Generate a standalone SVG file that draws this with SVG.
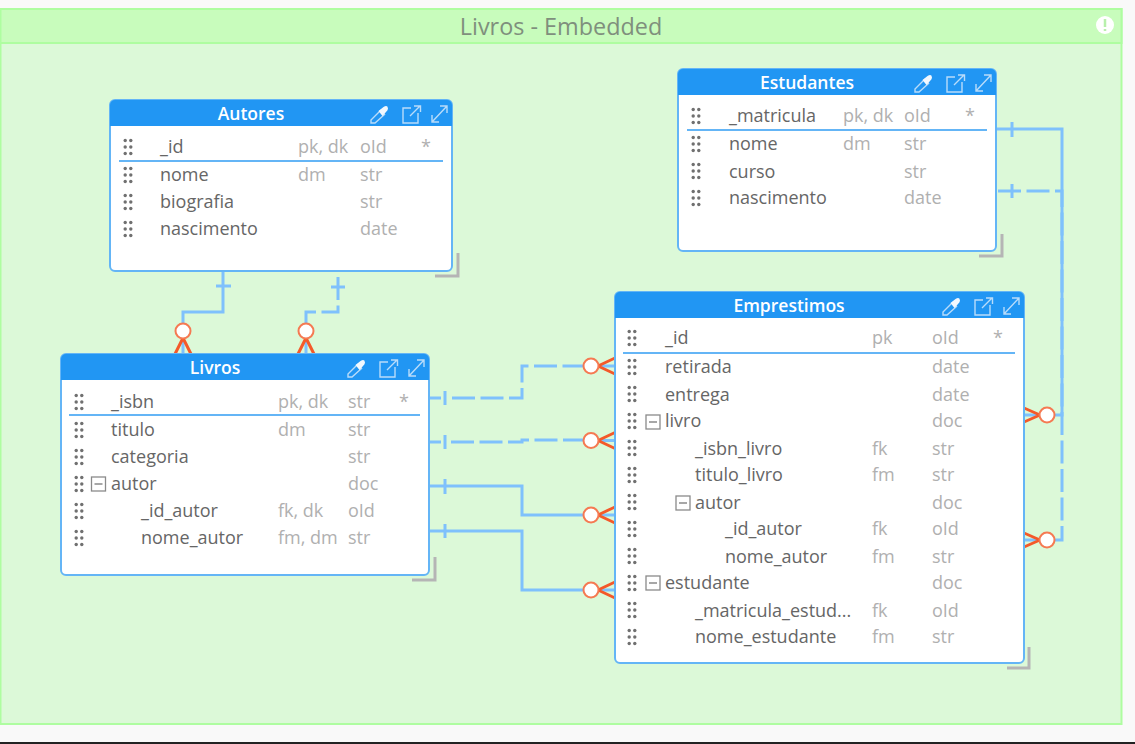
<svg xmlns="http://www.w3.org/2000/svg" width="1135" height="744" viewBox="0 0 1135 744">
<style>
text{font-family:"Open Sans","Noto Sans","Liberation Sans",sans-serif;font-size:18px}
.card{fill:#fff;stroke:#64b5f6;stroke-width:2}
.head{fill:#2196f3}
.title{fill:#fff;font-weight:600;text-anchor:middle;font-size:17.500px}
.n{fill:#666}
.m{fill:#b0b0b0}
.div{stroke:#64b5f6;stroke-width:2;fill:none}
.grab{fill:none;stroke:#b5b5b5;stroke-width:3}
.c{fill:none;stroke:#7fc1fc;stroke-width:3}
.d{stroke-dasharray:23 5.500}
.crow{fill:none;stroke:#f4592a;stroke-width:3}
.o{fill:#fff;stroke:#f57a52;stroke-width:2}
.ic{fill:none;stroke:#b9dcfa;stroke-width:1.400}
.g{fill:#707070}
.box{fill:none;stroke:#8a8a8a;stroke-width:1.300}
</style>
<defs>
<g id="grip"><circle cx="-2.800" cy="-6.500" r="1.700" class="g"/><circle cx="2.800" cy="-6.500" r="1.700" class="g"/><circle cx="-2.800" cy="0" r="1.700" class="g"/><circle cx="2.800" cy="0" r="1.700" class="g"/><circle cx="-2.800" cy="6.500" r="1.700" class="g"/><circle cx="2.800" cy="6.500" r="1.700" class="g"/></g>
<g id="icons">
<path class="ic" d="M-81 6L-71.500 -3.500L-67.500 0.500L-77 9H-81Z"/><path d="M-73.500 -3L-68.500 -7Q-64.500 -9.500 -64 -5.500Q-64 -4 -66 -2L-69.500 2Z" fill="#f2f8fe"/>
<path class="ic" d="M-41 -6H-49V9H-34V-1M-42 2L-32 -8M-38 -8H-31.500V-2"/>
<path class="ic" d="M-20 8L-5 -8M-20 1V8H-13M-12 -8H-5V-1"/>
</g>
<g id="minus"><rect x="-7" y="-7" width="14" height="14" class="box"/><path d="M-4 0H4" stroke="#777" stroke-width="1.300"/></g>
<g id="crowL"><path class="c" d="M598 0H615"/><path class="crow" d="M598 0L615 -8M598 0L615 8"/><circle cx="591" cy="0" r="7.500" class="o"/></g>
<g id="crowR"><path class="c" d="M1024 0H1040"/><path class="crow" d="M1040 0L1024 -7M1040 0L1024 7"/><circle cx="1047" cy="0" r="7.500" class="o"/></g>
<g id="crowD"><path class="c" d="M0 338V354"/><path class="crow" d="M0 338L-8 354M0 338L8 354"/><circle cx="0" cy="331" r="7.500" class="o"/></g>
</defs>
<rect width="1135" height="744" fill="#f9f9f9"/>
<rect x="0" y="742" width="1135" height="2" fill="#222"/>
<g id="container">
<rect x="0.500" y="9" width="1121" height="715" fill="#dcf9d8" stroke="#aefda0" stroke-width="2"/>
<rect x="0.500" y="9" width="1121" height="34" fill="#c8fcbc" stroke="#aefda0" stroke-width="2"/>
<text x="561" y="34.500" text-anchor="middle" fill="#7f8f7d" style="font-size:23.400px">Livros - Embedded</text>
<circle cx="1105" cy="25" r="9" fill="#fff"/><path d="M1105 19V27M1105 29V31" stroke="#b8f0ac" stroke-width="2.500"/>
</g>
<g id="connectors">
<path class="c" d="M223 271V312H183V338"/><path class="c" d="M216 286H231"/>
<path class="c d" d="M338 277V312H306V338"/><path class="c" d="M331 287H345"/>
<path class="c" d="M429 398H441"/><path class="c d" d="M452 398H522V366H584"/><path class="c" d="M445 391V405"/>
<path class="c" d="M429 442H441"/><path class="c d" d="M451 442H522V440H584"/><path class="c" d="M445 435V449"/>
<path class="c" d="M429 486H522V515H584"/><path class="c" d="M445 479V494"/>
<path class="c" d="M429 531H522V590H584"/><path class="c" d="M445 524V538"/>
<path class="c" d="M996 129H1062V415H1054"/><path class="c" d="M1012 122V137"/>
<path class="c d" d="M998 191H1062V540H1054"/><path class="c" d="M1012 184V198"/>
<use href="#crowD" x="183"/><use href="#crowD" x="306"/>
<use href="#crowL" y="366"/><use href="#crowL" y="440.500"/><use href="#crowL" y="515"/><use href="#crowL" y="590"/>
<use href="#crowR" y="415"/><use href="#crowR" y="540"/>
</g>
<g id="autores">
<path class="grab" d="M435 276H458V253"/>
<rect class="card" x="110" y="100" width="342" height="171" rx="5"/>
<path class="head" d="M110 126V105a5 5 0 0 1 5-5H447a5 5 0 0 1 5 5V126Z"/>
<text class="title" x="251" y="119.500">Autores</text>
<use href="#icons" x="452" y="114"/>
<path class="div" d="M119 161H443"/>
<use href="#grip" x="128" y="147"/><use href="#grip" x="128" y="175"/><use href="#grip" x="128" y="202"/><use href="#grip" x="128" y="229"/>
<text class="n" x="160" y="153">_id</text><text class="m" x="298" y="153">pk, dk</text><text class="m" x="360" y="153">oId</text><text class="m" x="421" y="153">*</text>
<text class="n" x="160" y="181">nome</text><text class="m" x="298" y="181">dm</text><text class="m" x="360" y="181">str</text>
<text class="n" x="160" y="208">biografia</text><text class="m" x="360" y="208">str</text>
<text class="n" x="160" y="235">nascimento</text><text class="m" x="360" y="235">date</text>
</g>
<g id="livros">
<path class="grab" d="M412 580H435V557"/>
<rect class="card" x="61" y="354" width="368" height="221" rx="5"/>
<path class="head" d="M61 380V359a5 5 0 0 1 5-5H424a5 5 0 0 1 5 5V380Z"/>
<text class="title" x="215" y="373.500">Livros</text>
<use href="#icons" x="429" y="368"/>
<path class="div" d="M69 415H420"/>
<use href="#grip" x="79" y="402"/><use href="#grip" x="79" y="430"/><use href="#grip" x="79" y="457"/><use href="#grip" x="79" y="484"/><use href="#grip" x="79" y="511"/><use href="#grip" x="79" y="538"/>
<use href="#minus" x="98.500" y="484"/>
<text class="n" x="111" y="408">_isbn</text><text class="m" x="278" y="408">pk, dk</text><text class="m" x="348" y="408">str</text><text class="m" x="399" y="408">*</text>
<text class="n" x="111" y="436">titulo</text><text class="m" x="278" y="436">dm</text><text class="m" x="348" y="436">str</text>
<text class="n" x="111" y="463">categoria</text><text class="m" x="348" y="463">str</text>
<text class="n" x="111" y="490">autor</text><text class="m" x="348" y="490">doc</text>
<text class="n" x="141" y="517">_id_autor</text><text class="m" x="278" y="517">fk, dk</text><text class="m" x="348" y="517">oId</text>
<text class="n" x="141" y="544">nome_autor</text><text class="m" x="278" y="544">fm, dm</text><text class="m" x="348" y="544">str</text>
</g>
<g id="estudantes">
<path class="grab" d="M979 256H1002V234"/>
<rect class="card" x="678" y="69" width="318" height="182" rx="5"/>
<path class="head" d="M678 95V74a5 5 0 0 1 5-5H991a5 5 0 0 1 5 5V95Z"/>
<text class="title" x="807" y="88.500">Estudantes</text>
<use href="#icons" x="996" y="83"/>
<path class="div" d="M687 130H987"/>
<use href="#grip" x="696" y="116"/><use href="#grip" x="696" y="144"/><use href="#grip" x="696" y="171"/><use href="#grip" x="696" y="198"/>
<text class="n" x="729" y="122">_matricula</text><text class="m" x="843" y="122">pk, dk</text><text class="m" x="904" y="122">oId</text><text class="m" x="965" y="122">*</text>
<text class="n" x="729" y="150">nome</text><text class="m" x="843" y="150">dm</text><text class="m" x="904" y="150">str</text>
<text class="n" x="729" y="178">curso</text><text class="m" x="904" y="178">str</text>
<text class="n" x="729" y="204">nascimento</text><text class="m" x="904" y="204">date</text>
</g>
<g id="emprestimos">
<path class="grab" d="M1007 668H1029V647"/>
<rect class="card" x="615" y="292" width="409" height="371" rx="5"/>
<path class="head" d="M615 318V297a5 5 0 0 1 5-5H1019a5 5 0 0 1 5 5V318Z"/>
<text class="title" x="789" y="311.500">Emprestimos</text>
<use href="#icons" x="1024" y="306"/>
<path class="div" d="M623 353H1015"/>
<use href="#grip" x="632" y="338"/><use href="#grip" x="632" y="367"/><use href="#grip" x="632" y="394"/><use href="#grip" x="632" y="421"/><use href="#grip" x="632" y="448"/><use href="#grip" x="632" y="475"/><use href="#grip" x="632" y="502"/><use href="#grip" x="632" y="529"/><use href="#grip" x="632" y="556"/><use href="#grip" x="632" y="583"/><use href="#grip" x="632" y="610"/><use href="#grip" x="632" y="637"/>
<use href="#minus" x="653" y="422"/><use href="#minus" x="683" y="503"/><use href="#minus" x="653" y="583"/>
<text class="n" x="665" y="344">_id</text><text class="m" x="872" y="344">pk</text><text class="m" x="932" y="344">oId</text><text class="m" x="993" y="344">*</text>
<text class="n" x="665" y="373">retirada</text><text class="m" x="932" y="373">date</text>
<text class="n" x="665" y="401">entrega</text><text class="m" x="932" y="401">date</text>
<text class="n" x="665" y="427">livro</text><text class="m" x="932" y="427">doc</text>
<text class="n" x="695" y="455">_isbn_livro</text><text class="m" x="872" y="455">fk</text><text class="m" x="932" y="455">str</text>
<text class="n" x="695" y="481">titulo_livro</text><text class="m" x="872" y="481">fm</text><text class="m" x="932" y="481">str</text>
<text class="n" x="695" y="509">autor</text><text class="m" x="932" y="509">doc</text>
<text class="n" x="725" y="535">_id_autor</text><text class="m" x="872" y="535">fk</text><text class="m" x="932" y="535">oId</text>
<text class="n" x="725" y="563">nome_autor</text><text class="m" x="872" y="563">fm</text><text class="m" x="932" y="563">str</text>
<text class="n" x="665" y="589">estudante</text><text class="m" x="932" y="589">doc</text>
<text class="n" x="695" y="617">_matricula_estud...</text><text class="m" x="872" y="617">fk</text><text class="m" x="932" y="617">oId</text>
<text class="n" x="695" y="643">nome_estudante</text><text class="m" x="872" y="643">fm</text><text class="m" x="932" y="643">str</text>
</g>
</svg>
